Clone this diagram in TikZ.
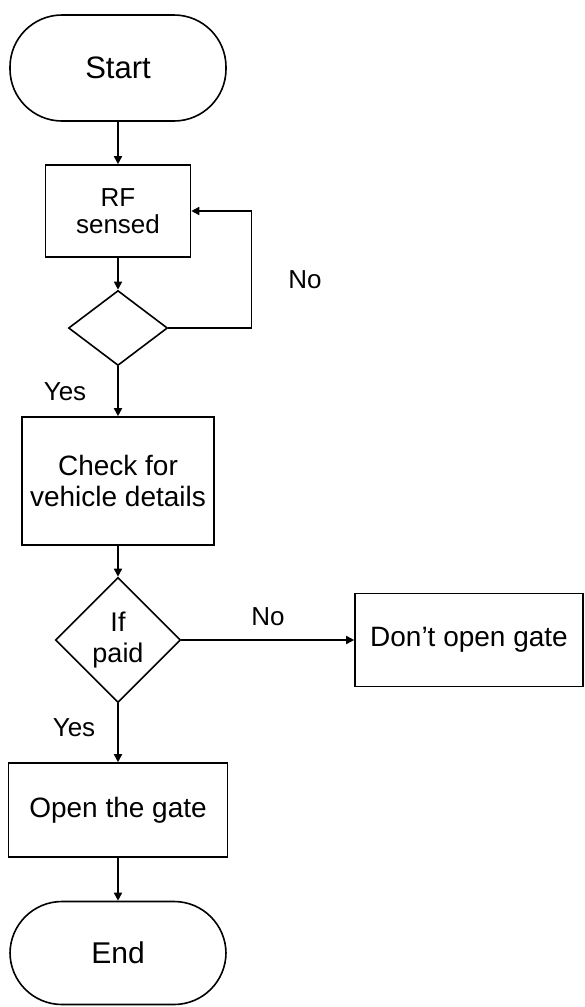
\documentclass[tikz,border=0pt]{standalone}
\usepackage{fontspec}
\setmainfont{Liberation Sans}
\usepackage{tikz}
\usetikzlibrary{arrows.meta,positioning,shapes.geometric}

\begin{document}
\begin{tikzpicture}[x=1pt,y=-1pt,line width=1.6pt,
    every node/.style={font=\fontsize{28}{31}\selectfont},
    terminal/.style={draw,rounded corners=52pt,minimum width=216pt,minimum height=106pt},
    process/.style={draw,align=center,inner sep=0pt},
    decision/.style={draw,diamond,align=center,inner sep=0pt,aspect=1},
    flow/.style={-{Triangle[length=8pt,width=8pt]}},
    answer/.style={font=\fontsize{26}{28}\selectfont}]
    \useasboundingbox (0,0) rectangle (584,1007);

    % Start and first check
    \node[terminal,font=\fontsize{31}{34}\selectfont] (start) at (118,68) {Start};
    \node[process,minimum width=145pt,minimum height=92pt,font=\fontsize{26}{27}\selectfont] (rf) at (118,211) {RF\\sensed};
    \node[decision,minimum width=99pt,minimum height=75pt] (sensed) at (118,328) {};

    % Vehicle details and payment
    \node[process,minimum width=192pt,minimum height=128pt] (check) at (118,481) {Check for\\vehicle details};
    \node[decision,minimum width=125pt,minimum height=125pt,font=\fontsize{27}{31}\selectfont] (paid) at (118,640) {If\\paid};
    \node[process,minimum width=228pt,minimum height=93pt] (noopen) at (469,640) {Don’t open gate};

    % Gate and end
    \node[process,minimum width=219pt,minimum height=94pt] (open) at (118,810) {Open the gate};
    \node[terminal,minimum height=103pt,font=\fontsize{30}{33}\selectfont] (end) at (118,953) {End};

    % Labels
    \node[answer] (no1) at (305,280) {No};
    \node[answer] (yes1) at (65,392) {Yes};
    \node[answer] (no2) at (268,617) {No};
    \node[answer] (yes2) at (74,728) {Yes};

    % Connectors
    \draw[flow] (start) -- (rf);
    \draw[flow] (rf) -- (sensed);
    \draw[flow] (sensed.east) -- ++(83,0) |- (rf.east);
    \draw[flow] (sensed) -- (check);
    \draw[flow] (check) -- (paid);
    \draw[flow] (paid.east) -- (paid.east -| noopen.west);
    \draw[flow] (paid) -- (open);
    \draw[flow] (open) -- (end);
\end{tikzpicture}
\end{document}
